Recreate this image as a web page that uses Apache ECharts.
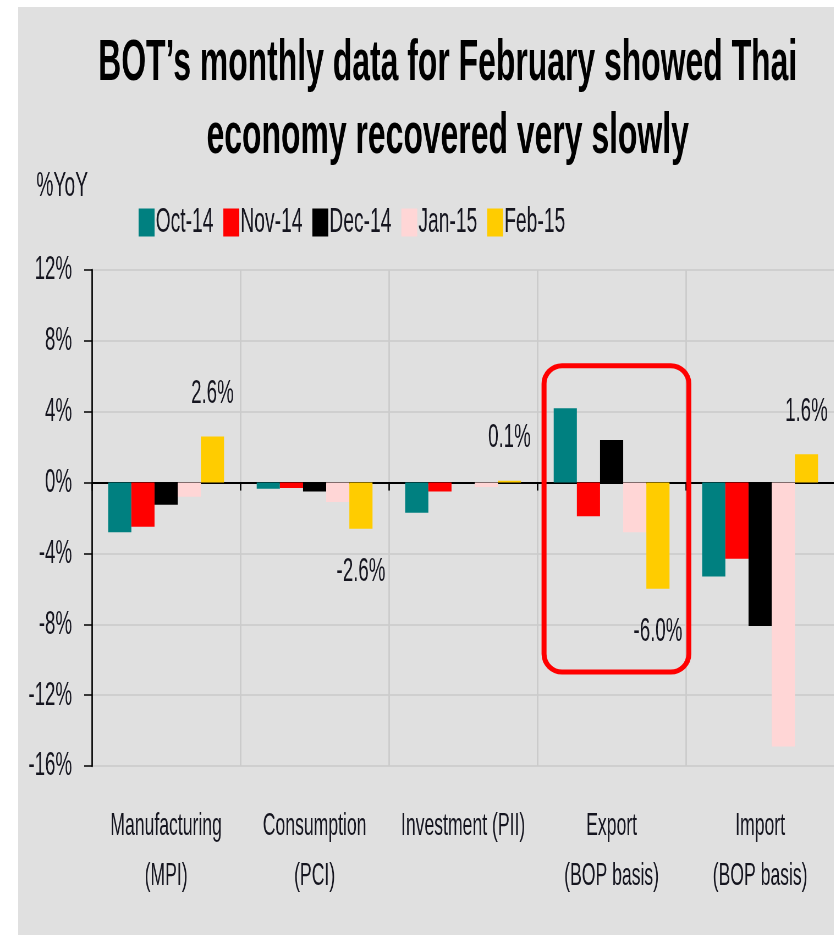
<!DOCTYPE html>
<html>
<head>
<meta charset="utf-8">
<script src="https://cdn.jsdelivr.net/npm/echarts@6/dist/echarts.min.js"></script>
<style>
  html, body { margin: 0; padding: 0; background: #ffffff; overflow: hidden; }
  #panel { position: absolute; left: 18px; top: 7px; width: 816px; height: 928px; background: #e0e0e0; }
  /* the reference uses a narrow typeface; the chart is drawn wider and condensed horizontally */
  #chart { position: absolute; left: 0; top: 0; width: 1517px; height: 940px; transform: scaleX(0.55); transform-origin: 0 0; }
</style>
</head>
<body>
<div id="panel"></div>
<div id="chart"></div>
<script>
// ---- data ----
const categories = ['Manufacturing\n(MPI)', 'Consumption\n(PCI)', 'Investment (PII)', 'Export\n(BOP basis)', 'Import\n(BOP basis)'];
const seriesNames = ['Oct-14', 'Nov-14', 'Dec-14', 'Jan-15', 'Feb-15'];
const oct14 = [-2.8, -0.35, -1.7, 4.2, -5.3];
const nov14 = [-2.5, -0.3, -0.5, -1.9, -4.3];
const dec14 = [-1.25, -0.5, 0.0, 2.4, -8.1];
const jan15 = [-0.8, -1.1, -0.25, -2.8, -14.9];
const feb15 = [2.6, -2.6, 0.1, -6.0, 1.6];
const yTicks = { min: -16, max: 12, interval: 4 };
const highlightCategory = 'Export\n(BOP basis)';
const highlightRange = [6.6, -10.7];

const SX = 0.55; // horizontal condensing applied to the chart element
const colors = ['#008080', '#ff0000', '#000000', '#ffd6d6', '#ffcc00'];
const FONT = "'Liberation Sans', Arial, sans-serif";
const TXT = '#15151f';

const allValues = [oct14, nov14, dec14, jan15, feb15];

const chart = echarts.init(document.getElementById('chart'), null, { renderer: 'canvas' });

const series = allValues.map((vals, i) => ({
  name: seriesNames[i],
  type: 'bar',
  barGap: '0%',
  barCategoryGap: '22%',
  itemStyle: { color: colors[i] },
  emphasis: { disabled: true },
  data: vals.map(v => {
    const item = { value: v };
    if (i === 4) {
      item.label = {
        show: true,
        position: v >= 0 ? 'top' : 'bottom',
        distance: 26,
        formatter: p => p.value.toFixed(1) + '%',
        fontFamily: FONT,
        fontSize: 34,
        color: TXT
      };
    }
    return item;
  })
}));

chart.setOption({
  animation: false,
  backgroundColor: 'transparent',
  textStyle: { fontFamily: FONT },
  title: {
    text: "BOT’s monthly data for February showed Thai\neconomy recovered very slowly",
    left: 809,
    top: 22,
    textAlign: 'center',
    textStyle: { fontFamily: FONT, fontSize: 58, fontWeight: 'bold', color: '#000', lineHeight: 73 }
  },
  legend: {
    left: 247,
    top: 200,
    itemWidth: 29,
    itemHeight: 28,
    itemGap: 18,
    icon: 'rect',
    textStyle: { fontFamily: FONT, fontSize: 35, color: TXT, padding: [0, 0, 0, -3] },
    data: seriesNames
  },
  grid: { left: 167, top: 270, right: -10, bottom: 174, containLabel: false },
  xAxis: [
    {
      type: 'category',
      data: categories,
      position: 'bottom',
      axisLine: { onZero: true, lineStyle: { color: '#000', width: 2 } },
      axisTick: { show: true, length: 8, lineStyle: { color: '#000', width: 2.7 } },
      axisLabel: { show: false },
      splitLine: { show: true, lineStyle: { color: '#cacaca', width: 2.7 } }
    },
    {
      type: 'category',
      data: categories,
      position: 'bottom',
      axisLine: { show: false, onZero: false },
      axisTick: { show: false },
      axisLabel: { show: true, margin: 35, fontFamily: FONT, fontSize: 32, lineHeight: 50, color: TXT, interval: 0 },
      splitLine: { show: false }
    }
  ],
  yAxis: {
    type: 'value',
    min: yTicks.min,
    max: yTicks.max,
    interval: yTicks.interval,
    name: '%YoY',
    nameLocation: 'end',
    nameGap: 66,
    nameTextStyle: { fontFamily: FONT, fontSize: 35, color: TXT, align: 'right', padding: [0, 7, 0, 0] },
    axisLine: { show: true, lineStyle: { color: '#000', width: 2.7 } },
    axisTick: { show: true, inside: false, length: 14, lineStyle: { color: '#000', width: 1.5 } },
    axisLabel: { margin: 36, fontFamily: FONT, fontSize: 34, color: TXT, formatter: v => v + '%' },
    splitLine: { show: true, lineStyle: { color: '#cacaca', width: 1.5 } }
  },
  series: series
});

// highlight box around the Export group, positioned from the axes;
// it is counter-scaled so its outline and corners stay uniform after condensing
function drawHighlight() {
  const idx = categories.indexOf(highlightCategory);
  const c = chart.convertToPixel({ xAxisIndex: 0 }, categories[idx]);
  const c0 = chart.convertToPixel({ xAxisIndex: 0 }, categories[0]);
  const c1 = chart.convertToPixel({ xAxisIndex: 0 }, categories[1]);
  const band = c1 - c0;
  const yTop = chart.convertToPixel({ yAxisIndex: 0 }, highlightRange[0]);
  const yBot = chart.convertToPixel({ yAxisIndex: 0 }, highlightRange[1]);
  const x0 = c - band * 0.455;
  const x1 = c + band * 0.52;
  chart.setOption({
    graphic: [{
      type: 'rect',
      silent: true,
      z: 100,
      x: x0,
      y: 0,
      scaleX: 1 / SX,
      shape: { x: 0, y: yTop, width: (x1 - x0) * SX, height: yBot - yTop, r: 18 },
      style: { fill: 'none', stroke: '#ff0000', lineWidth: 5 }
    }]
  });
}
drawHighlight();
</script>
</body>
</html>
